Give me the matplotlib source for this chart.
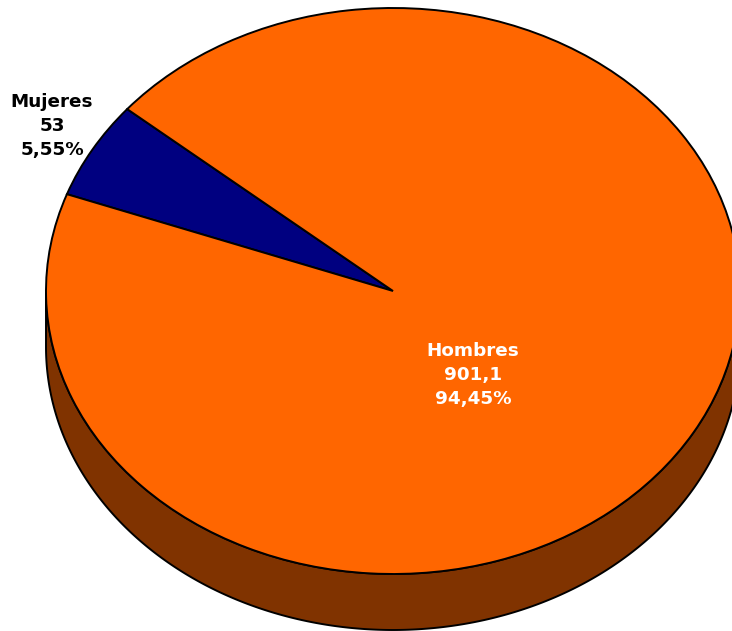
import numpy as np
import matplotlib
matplotlib.use("Agg")
import matplotlib.pyplot as plt

categories = ["Mujeres", "Hombres"]
values = [53, 901.1]
value_labels = ["53", "901,1"]
percent_labels = ["5,55%", "94,45%"]
colors = ["#000080", "#FF6600"]
side_color = "#803300"
START = 140
W, H = 732, 631
CX, CY, RX, RY, DEPTH = 393, 291, 347, 283, 56

plt.rcParams['font.family'] = ['DejaVu Sans']
fig = plt.figure(figsize=(W / 100, H / 100), dpi=100, facecolor="white")
ax = fig.add_axes([0, 0, 1, 1])
d = DEPTH / RY

# side wall of the 3D pie
t = np.linspace(np.pi, 2 * np.pi, 400)
sx = np.concatenate([np.cos(t), np.cos(t[::-1])])
sy = np.concatenate([np.sin(t) - d, np.sin(t[::-1])])
ax.fill(sx, sy, facecolor=side_color, edgecolor="black", linewidth=1.4, zorder=1)

wedges, _ = ax.pie(values, colors=colors, startangle=START, counterclock=True,
                   wedgeprops=dict(edgecolor="black", linewidth=1.4, zorder=2))
ax.set_aspect("auto")
ax.set_xlim(-CX / RX, (W - CX) / RX)
ax.set_ylim((CY - H) / RY, CY / RY)
ax.axis("off")

def px(x, y):
    return (x - CX) / RX, (CY - y) / RY

label_pos = [(52, 126), (473, 375)]
label_col = ["black", "white"]
for cat, v, p, (x, y), c in zip(categories, value_labels, percent_labels, label_pos, label_col):
    ax.text(*px(x, y), f"{cat}\n{v}\n{p}", ha="center", va="center", color=c,
            fontsize=13.2, fontweight="bold", linespacing=1.46, zorder=5)

fig.savefig("out.png", dpi=100, facecolor="white")
